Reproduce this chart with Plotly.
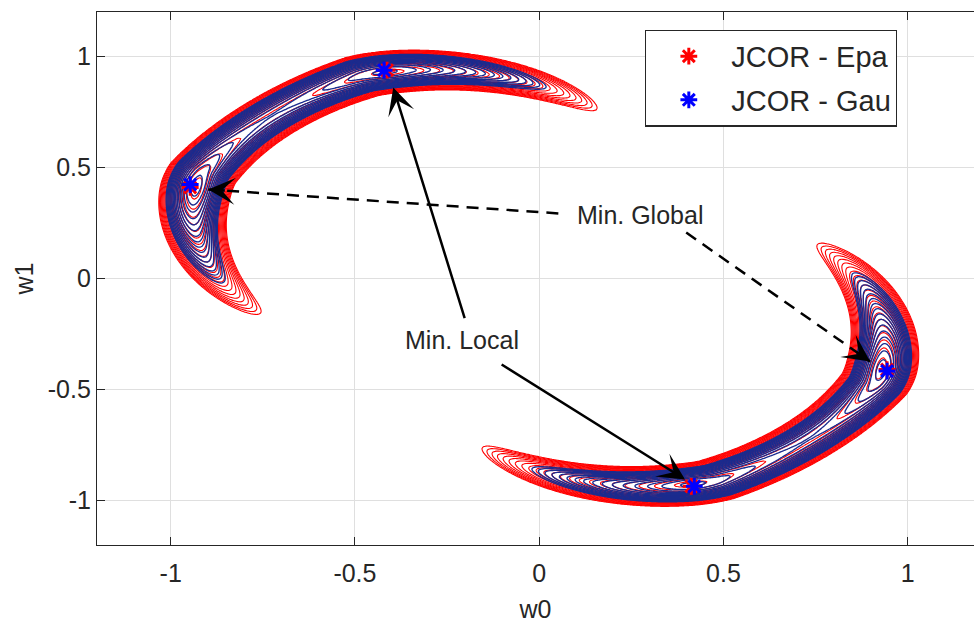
import numpy as np
import plotly.graph_objects as go

# Minima located by each criterion on the (w0, w1) plane.
# Order: [global, local] of the upper-left valley, then [global, local] of the lower-right valley.
epa_w0 = [-0.947, -0.413, 0.944, 0.413]
epa_w1 = [0.410, 0.938, -0.410, -0.936]
gau_w0 = [-0.947, -0.421, 0.944, 0.421]
gau_w1 = [0.423, 0.938, -0.417, -0.936]

# Contour levels drawn for each cost surface
epa_levels = dict(start=-0.03, end=1.0, size=0.045)
gau_levels = dict(start=-0.03, end=0.61, size=0.04)

x_ticks = [-1, -0.5, 0, 0.5, 1]
x_tick_text = ["-1", "-0.5", "0", "0.5", "1"]
y_ticks = [-1, -0.5, 0, 0.5, 1]
y_tick_text = ["-1", "-0.5", "0", "0.5", "1"]

# Evaluation grid of the cost surfaces
grid = np.round(np.arange(-1.14, 1.1401, 0.005), 4)


def wrap(a):
    return (a + np.pi) % (2 * np.pi) - np.pi


def valley_surface(mins_w0, mins_w1, half_width, wall, eps, depth):
    """Banana-shaped double-well valleys passing through the given minima."""
    W0, W1 = np.meshgrid(grid, grid)
    r = np.hypot(W0, W1)
    th = np.arctan2(W1, W0)
    Z = np.full(W0.shape, 4.0)
    for g, l in ((0, 1), (2, 3)):
        ag = np.arctan2(mins_w1[g], mins_w0[g])
        al = np.arctan2(mins_w1[l], mins_w0[l])
        phi = np.arctan2(np.sin(ag) + np.sin(al), np.cos(ag) + np.cos(al))
        d0 = wrap(ag - phi)
        R0 = 0.5 * (np.hypot(mins_w0[g], mins_w1[g]) + np.hypot(mins_w0[l], mins_w1[l]))
        delta = wrap(th - phi)
        s = delta / d0
        excess = np.clip(np.abs(delta) - 0.8 * abs(d0), 0, None)
        R = R0 - 0.40 * excess ** 1.3
        u = (r - R) / half_width
        h = (wall * (np.sqrt((s ** 2 - 1) ** 2 + eps ** 2) - eps)
             - depth * np.exp(-((s - 1) / 0.5) ** 2))
        Z = np.minimum(Z, u ** 2 + h)
    return np.round(np.clip(Z, -1, 4.0), 3)


z_epa = valley_surface(epa_w0, epa_w1, 0.100, 0.166, 0.25, 0.05)
z_gau = valley_surface(gau_w0, gau_w1, 0.098, 0.166, 0.25, 0.05)

TXT = "#262626"
FONT = "Liberation Sans, Arial, sans-serif"

fig = go.Figure()

fig.add_trace(go.Contour(
    x=grid, y=grid, z=z_epa, showscale=False, showlegend=False, hoverinfo="skip",
    contours=dict(coloring="none", **epa_levels),
    line=dict(color="#ff0000", width=1.1, smoothing=1),
))
fig.add_trace(go.Contour(
    x=grid, y=grid, z=z_gau, showscale=False, showlegend=False, hoverinfo="skip",
    contours=dict(coloring="none", **gau_levels),
    line=dict(color="#1b2b8e", width=1.35, smoothing=1),
))

fig.add_trace(go.Scatter(
    x=epa_w0, y=epa_w1, mode="markers", name="JCOR - Epa", legendgroup="epa",
    marker=dict(symbol="asterisk-open", size=14, color="#ff0000",
                line=dict(color="#ff0000", width=3)),
))
fig.add_trace(go.Scatter(
    x=gau_w0, y=gau_w1, mode="markers", name="JCOR - Gau", legendgroup="gau",
    marker=dict(symbol="asterisk-open", size=14, color="#0000ff",
                line=dict(color="#0000ff", width=3)),
))

# Labels and arrows pointing at the minima
global_text = (0.274, 0.284)
local_text = (-0.209, -0.279)
global_arrows = [((0.052, 0.293), (-0.898, 0.401)), ((0.399, 0.207), (0.898, -0.374))]
local_arrows = [((-0.201, -0.185), (-0.396, 0.860)), ((-0.106, -0.383), (0.396, -0.905))]

annotations = [
    dict(x=global_text[0], y=global_text[1], text="Min. Global", showarrow=False,
         font=dict(size=25, color=TXT, family=FONT)),
    dict(x=local_text[0], y=local_text[1], text="Min. Local", showarrow=False,
         font=dict(size=25, color=TXT, family=FONT)),
]
shapes = []
for (tx, ty), (hx, hy) in local_arrows:
    annotations.append(dict(x=hx, y=hy, ax=tx, ay=ty, xref="x", yref="y", axref="x", ayref="y",
                            text="", showarrow=True, arrowhead=3, arrowsize=1.8,
                            arrowwidth=2.5, arrowcolor="#000000"))
for (tx, ty), (hx, hy) in global_arrows:
    shapes.append(dict(type="line", x0=tx, y0=ty, x1=hx, y1=hy, xref="x", yref="y",
                       line=dict(color="#000000", width=2.5, dash="12px,8px")))
    # short stub so only the arrow head is visible at the end of the dashed line
    dx_px = (tx - hx) * 368.5
    dy_px = -(ty - hy) * 222.0
    n = np.hypot(dx_px, dy_px)
    annotations.append(dict(x=hx, y=hy, xref="x", yref="y", ax=dx_px / n * 18, ay=dy_px / n * 18,
                            text="", showarrow=True, arrowhead=3, arrowsize=1.8,
                            arrowwidth=2.5, arrowcolor="#000000"))

axis_common = dict(
    showgrid=True, gridcolor="#dfdfdf", gridwidth=1, zeroline=False,
    showline=True, linecolor=TXT, linewidth=1.2,
    ticks="inside", ticklen=8, tickcolor=TXT, tickwidth=1,
    tickfont=dict(size=25, color=TXT, family=FONT),
)

fig.update_layout(
    width=974, height=623,
    margin=dict(l=97, r=0, t=12, b=78),
    paper_bgcolor="white", plot_bgcolor="white",
    font=dict(family=FONT, color=TXT),
    xaxis=dict(range=[-1.2, 1.18], tickvals=x_ticks, ticktext=x_tick_text, mirror="ticks",
               ticklabelstandoff=6,
               title=dict(text="w0", font=dict(size=25, color=TXT, family=FONT), standoff=19),
               **axis_common),
    yaxis=dict(range=[-1.2, 1.2], tickvals=y_ticks, ticktext=y_tick_text, mirror=False,
               title=dict(text="w1", font=dict(size=25, color=TXT, family=FONT), standoff=7),
               **axis_common),
    legend=dict(x=0.625, y=0.967, xanchor="left", yanchor="top",
                bgcolor="white", bordercolor=TXT, borderwidth=1.2,
                font=dict(size=29, color=TXT, family=FONT),
                tracegroupgap=3, itemwidth=75),
    annotations=annotations,
    shapes=shapes,
)

fig.write_html("out.html")
